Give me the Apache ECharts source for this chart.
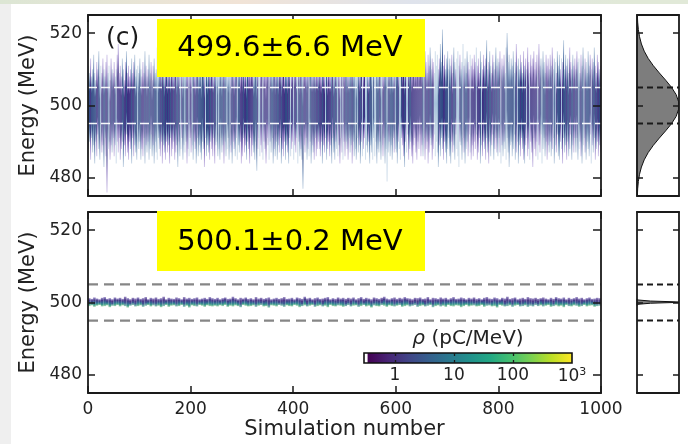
<!DOCTYPE html>
<html><head><meta charset="utf-8">
<script src="https://cdn.jsdelivr.net/npm/echarts@6/dist/echarts.min.js"></script>
<style>html,body{margin:0;padding:0;background:#fff;}#c{width:688px;height:444px;}</style>
</head><body><div id="c"></div>
<script>
// ---------- data ----------
const TOP_STEP = 2;   // simulations per sample in the upper panel
const BOT_STEP = 5;   // simulations per sample in the lower panel
const xTicks = [0, 200, 400, 600, 800, 1000];
const yTicks = [480, 500, 520];
const dashLevels = [495, 505];
const labelTop = '499.6±6.6 MeV';
const labelBot = '500.1±0.2 MeV';

const topHi = [
511,509,513,508,510,514,509,507,512,510,515,508,511,509,513,510,508,512,514,509,511,507,513,510,509,
512,508,510,514,517,509,511,508,513,510,507,512,515,509,511,508,510,513,509,512,514,508,510,511,509,
513,510,508,512,509,515,511,508,510,514,509,512,507,511,513,509,510,516,508,511,512,509,514,510,508,
511,513,509,510,512,508,514,510,509,511,515,508,512,510,509,513,511,508,510,514,509,512,510,508,511,
509,512,514,510,508,511,513,509,510,512,508,515,511,509,510,513,508,512,511,509,514,510,508,512,510,
511,509,513,510,512,508,510,514,509,511,513,508,510,512,509,515,510,508,511,513,509,510,512,508,514,
510,512,509,511,508,513,510,512,509,514,511,508,510,513,509,512,510,508,511,515,509,510,512,508,511,
513,509,510,512,508,511,514,509,510,512,508,513,511,509,510,516,508,512,510,509,513,511,508,510,512,
509,511,513,508,510,512,509,514,510,508,511,513,509,510,512,508,515,511,509,510,513,508,512,510,509,
512,510,508,513,511,509,510,514,508,512,510,509,511,513,508,510,512,509,515,511,508,510,513,509,512,
510,513,509,511,508,512,510,514,509,511,513,508,510,512,509,511,514,508,510,513,509,512,510,508,511,
514,510,509,512,508,511,513,509,510,516,508,512,510,509,513,511,508,510,512,509,514,510,508,511,513,
512,515,510,513,509,514,511,516,510,512,514,509,513,511,517,510,512,515,509,513,511,514,510,512,516,
511,513,510,515,512,509,514,511,516,510,513,512,509,515,511,514,510,513,517,512,521,511,514,510,513,
515,510,513,511,514,509,516,512,510,513,515,511,514,510,512,517,511,513,509,515,512,510,514,511,513,
510,514,512,516,511,513,509,515,512,510,514,511,513,518,510,512,515,511,509,514,512,510,516,511,513,
512,515,510,513,511,514,509,516,520,512,514,510,513,511,515,509,512,517,511,513,510,514,512,509,515,
511,513,510,516,512,509,514,511,513,515,510,512,514,509,517,511,513,510,515,512,509,514,511,513,510,
514,511,516,510,513,512,509,515,511,514,510,513,512,518,510,514,511,513,509,516,512,510,514,511,513,
510,515,512,513,509,514,511,516,510,513,512,509,515,511,514,510,513,512,516,511,509,514,512,510,511
];
const topLo = [
488,490,485,491,487,489,484,490,486,492,488,485,490,487,489,483,491,486,476,488,490,485,489,487,491,
486,489,484,490,487,491,485,488,490,483,489,486,492,487,485,490,488,484,491,486,489,487,485,490,488,
490,485,488,486,491,484,489,487,490,485,488,492,486,489,484,490,487,485,491,488,486,490,484,489,487,
485,490,487,489,484,491,486,488,490,485,487,489,483,490,486,488,491,485,489,487,490,484,488,486,491,
487,489,485,490,488,484,491,486,489,487,485,490,488,483,491,486,489,487,485,490,488,486,491,484,489,
490,486,488,485,491,487,489,484,490,486,488,491,485,489,487,484,490,488,486,491,485,489,487,490,484,
486,491,487,489,485,490,488,484,491,486,489,487,485,490,482,488,491,486,489,487,485,490,488,484,491,
489,485,490,487,491,484,488,486,490,485,489,487,491,484,488,486,490,485,489,487,484,491,486,488,490,
485,489,487,491,484,490,486,488,485,477,489,487,491,485,488,486,490,484,489,487,485,491,486,488,490,
488,486,490,484,489,487,491,485,488,490,486,489,484,491,487,485,490,488,486,489,484,491,487,485,490,
486,490,488,485,491,487,489,484,490,486,488,485,491,487,489,484,490,486,488,491,485,489,487,490,484,
489,487,485,491,486,490,484,488,487,490,485,489,486,491,484,488,479,487,490,486,489,485,491,487,488,
487,484,490,488,485,491,489,486,483,490,487,492,485,488,490,486,484,489,491,487,485,490,488,492,486,
489,486,491,485,488,490,484,487,491,489,485,488,492,486,490,487,483,489,486,491,488,485,490,487,484,
488,491,486,484,490,487,489,485,492,488,486,483,490,489,485,491,487,484,488,490,486,492,487,485,489,
486,490,488,492,485,487,491,484,489,486,490,488,485,491,487,484,490,486,489,492,485,488,491,487,486,
491,487,484,489,486,490,488,485,491,487,483,489,490,486,488,492,485,487,490,484,489,486,491,488,485,
484,489,491,486,488,485,490,487,483,491,488,486,490,485,489,487,492,484,488,491,486,490,485,489,487,
490,486,488,491,484,489,487,492,486,485,490,488,484,491,487,489,485,490,486,488,492,485,489,487,491,
487,491,485,488,490,486,484,489,491,487,485,490,488,486,492,484,489,487,491,485,488,490,486,489,487
];
const botHi = [
501.2,501.0,501.4,501.1,500.9,501.3,501.5,501.0,501.2,500.9,501.4,501.1,501.3,501.0,501.6,501.2,500.9,501.3,501.1,501.4,501.0,501.2,501.5,500.9,501.3,
501.1,501.4,501.0,501.2,501.6,500.9,501.3,501.1,501.0,501.4,501.2,500.9,501.5,501.1,501.3,501.0,501.2,501.4,500.9,501.1,501.3,501.0,501.5,501.2,501.0,
501.3,500.9,501.2,501.4,501.0,501.1,501.6,501.2,500.9,501.3,501.1,501.4,501.0,501.2,500.9,501.5,501.1,501.3,501.0,501.2,501.4,500.9,501.1,501.3,501.0,
501.2,501.5,501.0,501.1,501.3,500.9,501.4,501.2,501.0,501.6,501.1,501.3,500.9,501.2,501.4,501.0,501.1,501.3,501.5,500.9,501.2,501.0,501.4,501.1,501.3,
501.0,501.3,501.1,501.4,500.9,501.2,501.5,501.0,501.3,501.1,500.9,501.4,501.2,501.0,501.3,501.6,501.1,500.9,501.2,501.4,501.0,501.3,501.1,501.5,501.2,
501.1,500.9,501.3,501.2,501.4,501.0,501.1,501.5,500.9,501.3,501.2,501.0,501.4,501.1,501.3,500.9,501.2,501.5,501.0,501.1,501.4,501.2,500.9,501.3,501.1,
501.4,501.0,501.2,500.9,501.3,501.5,501.1,501.0,501.4,501.2,500.9,501.3,501.1,501.6,501.0,501.2,501.4,500.9,501.1,501.3,501.0,501.5,501.2,501.1,501.3,
501.0,501.2,501.4,501.1,500.9,501.3,501.0,501.5,501.2,501.1,501.4,500.9,501.3,501.0,501.2,501.5,501.1,501.3,500.9,501.2,501.4,501.0,501.1,501.3,501.2
];
const botLo = [
499.0,499.2,498.8,499.1,499.3,498.9,499.0,499.2,498.7,499.1,499.0,499.3,498.9,499.2,499.0,498.6,499.1,499.3,498.9,499.0,499.2,498.8,499.1,499.3,498.9,
499.2,498.9,499.1,498.7,499.0,499.3,498.8,499.1,499.2,498.9,499.0,499.3,498.8,499.1,498.6,499.2,499.0,498.9,499.3,499.1,498.8,499.2,499.0,498.9,499.1,
498.9,499.2,499.0,499.3,498.8,499.1,498.9,499.2,499.0,498.7,499.3,499.1,498.9,499.0,499.2,498.8,499.1,499.3,498.9,499.0,498.6,499.2,499.1,498.9,499.3,
499.1,498.8,499.2,499.0,498.9,499.3,499.1,498.7,499.0,499.2,498.9,499.1,499.3,498.8,499.0,499.2,498.9,499.1,498.7,499.3,499.0,498.9,499.2,499.1,498.8,
499.0,499.3,498.9,499.1,499.2,498.8,499.0,499.3,498.9,499.1,498.6,499.2,499.0,498.9,499.3,499.1,498.8,499.2,499.0,498.9,499.1,499.3,498.8,499.0,499.2,
498.9,499.1,499.3,498.8,499.0,499.2,498.9,499.1,499.3,498.7,499.0,499.2,498.9,499.1,498.8,499.3,499.0,498.9,499.2,499.1,498.7,499.0,499.3,498.9,499.1,
499.2,498.9,499.0,499.3,498.8,499.1,499.2,498.9,499.0,498.6,499.3,499.1,498.9,499.0,499.2,498.8,499.1,499.3,498.9,499.0,499.2,498.8,499.1,498.9,499.3,
499.0,499.2,498.9,499.1,499.3,498.8,499.0,499.2,498.9,499.1,498.7,499.3,499.0,498.9,499.2,499.1,498.8,499.0,499.3,498.9,499.1,499.2,498.8,499.0,499.1
];
const sideTopE   = [475,477,479,481,483,485,487,489,491,493,495,497,499,501,503,505,507,509,511,513,515,517,519,521,523,525];
const sideTopRho = [0.008,0.016,0.032,0.060,0.105,0.172,0.267,0.389,0.531,0.682,0.823,0.932,0.992,0.992,0.932,0.823,0.682,0.531,0.389,0.267,0.172,0.105,0.060,0.032,0.016,0.008];
const sideBotE   = [499.2,499.5,499.8,500.0,500.1,500.2,500.4,500.7,501.0];
const sideBotRho = [0.002,0.02,0.32,0.88,1.0,0.88,0.32,0.02,0.002];
const cbarTicks = [1, 10, 100, 1000];
const cbarRange = [0.3, 1000];
const cbarUnder = 0.345;

// ---------- styling ----------
const FONT = 'DejaVu Sans';
const INK = '#1a1a1a';
const stops = a => a.map(s => ({offset: s[0], color: s[1]}));
const PAL_PURPLE = stops([[0,'rgba(170,150,215,0.5)'],[0.15,'rgba(110,85,175,0.8)'],[0.27,'rgba(55,40,125,0.97)'],[0.73,'rgba(50,48,128,0.97)'],[0.85,'rgba(110,85,175,0.8)'],[1,'rgba(170,150,215,0.5)']]);
const PAL_BLUE = stops([[0,'rgba(160,185,210,0.55)'],[0.15,'rgba(85,120,170,0.85)'],[0.27,'rgba(40,66,128,0.97)'],[0.73,'rgba(40,66,128,0.97)'],[0.85,'rgba(85,120,170,0.85)'],[1,'rgba(160,185,210,0.55)']]);
const PAL_LIGHT = stops([[0,'rgba(190,208,226,0.65)'],[0.5,'rgba(140,176,208,0.9)'],[1,'rgba(190,208,226,0.65)']]);
const PAL_BOT_A = stops([[0,'rgba(120,100,180,0.7)'],[0.3,'rgba(60,48,130,0.95)'],[0.55,'rgba(42,92,140,0.95)'],[0.78,'rgba(38,140,130,0.9)'],[1,'rgba(100,185,120,0.6)']]);
const PAL_BOT_B = stops([[0,'rgba(110,90,170,0.7)'],[0.35,'rgba(68,44,128,0.95)'],[0.65,'rgba(50,80,140,0.95)'],[1,'rgba(60,160,130,0.6)']]);
const VIRIDIS = stops([[0,'#440154'],[0.1,'#482475'],[0.2,'#414487'],[0.3,'#355f8d'],[0.4,'#2a788e'],[0.5,'#21918c'],[0.6,'#22a884'],[0.7,'#44bf70'],[0.8,'#7ad151'],[0.9,'#bddf26'],[1,'#fde725']]);

const topData = topHi.map((h, i) => [TOP_STEP * i + 1, topLo[i], h]);
const botData = botHi.map((h, i) => [BOT_STEP * i + 2.5, botLo[i], h]);
const sideTopData = sideTopE.map((e, i) => [sideTopRho[i], e]);
const sideBotData = sideBotE.map((e, i) => [sideBotRho[i], e]);

// colour family of each spectrum line picked from its own values (no periodic pattern)
function pickTop(i) {
  const s = topHi[i] + topLo[i];
  return s % 7 === 0 ? PAL_LIGHT : (s % 2 ? PAL_BLUE : PAL_PURPLE);
}
function pickBot(i) {
  return Math.round((botHi[i] + botLo[i]) * 10) % 3 === 1 ? PAL_BOT_B : PAL_BOT_A;
}

function spikeRender(step, widen, pick) {
  return function (params, api) {
    const x = api.value(0), lo = api.value(1), hi = api.value(2);
    const a = api.coord([x, hi]), b = api.coord([x, lo]);
    const w = api.size([step, 0])[0] * widen;
    return {
      type: 'rect',
      shape: {x: a[0] - w / 2, y: a[1], width: w, height: b[1] - a[1]},
      style: {fill: new echarts.graphic.LinearGradient(0, a[1], 0, b[1], pick(params.dataIndex), true)}
    };
  };
}
function curveRender(data) {
  return function (params, api) {
    if (params.dataIndex !== 0) return null;
    const pts = [api.coord([0, data[0][1]])];
    data.forEach(d => pts.push(api.coord(d)));
    pts.push(api.coord([0, data[data.length - 1][1]]));
    return {type: 'polygon', shape: {points: pts}, style: {fill: '#7d7d7d', stroke: '#111', lineWidth: 1}};
  };
}

const grids = [
  {left: 88, top: 15, width: 513, height: 181},
  {left: 637, top: 15, width: 42, height: 181},
  {left: 88, top: 212, width: 513, height: 181},
  {left: 637, top: 212, width: 42, height: 181},
  {left: 364, top: 353, width: 208, height: 10}
];
const lineSt = {color: INK, width: 1.8};
const tickSt = {color: INK, width: 1.5};
const tickLbl = {fontFamily: FONT, fontSize: 17, color: '#222'};

function mainX(g, pos, labels) {
  return {gridIndex: g, type: 'value', position: pos, min: 0, max: 1000, interval: 200, z: 10,
    axisLine: {show: true, onZero: false, lineStyle: lineSt},
    axisTick: {show: true, inside: true, length: 7, lineStyle: tickSt},
    axisLabel: {show: labels, margin: 8, formatter: v => String(v), ...tickLbl},
    splitLine: {show: false},
    name: labels ? 'Simulation number' : '', nameLocation: 'middle', nameGap: 26,
    nameTextStyle: {fontFamily: FONT, fontSize: 21, color: '#222'}};
}
function sideX(g, pos) {
  return {gridIndex: g, type: 'value', position: pos, min: 0, max: 1, z: 10,
    axisLine: {show: true, onZero: false, lineStyle: lineSt},
    axisTick: {show: false}, axisLabel: {show: false}, splitLine: {show: false}};
}
function energyY(g, pos, labels, len) {
  return {gridIndex: g, type: 'value', position: pos, min: 475, max: 525, z: 10,
    axisLine: {show: true, onZero: false, lineStyle: lineSt},
    axisTick: {show: true, inside: true, length: len, customValues: yTicks, lineStyle: tickSt},
    axisLabel: {show: labels, customValues: yTicks, margin: 6, ...tickLbl},
    splitLine: {show: false},
    name: labels ? 'Energy (MeV)' : '', nameLocation: 'middle', nameGap: 43,
    nameTextStyle: {fontFamily: FONT, fontSize: 21, color: '#222'}};
}
function dashSeries(xi, yi, x0, x1, color, width, dash, z) {
  return dashLevels.map(lv => ({
    type: 'line', xAxisIndex: xi, yAxisIndex: yi, data: [[x0, lv], [x1, lv]],
    symbol: 'none', silent: true, z: z, lineStyle: {color: color, width: width, type: dash}
  }));
}

const option = {
  backgroundColor: '#ffffff',
  animation: false,
  grid: grids,
  xAxis: [
    mainX(0, 'bottom', false), mainX(0, 'top', false),
    sideX(1, 'bottom'), sideX(1, 'top'),
    mainX(2, 'bottom', true), mainX(2, 'top', false),
    sideX(3, 'bottom'), sideX(3, 'top'),
    {gridIndex: 4, type: 'log', position: 'bottom', min: cbarRange[0], max: cbarRange[1], z: 10,
      axisLine: {show: false},
      axisTick: {show: true, inside: true, length: 3, customValues: cbarTicks.slice(0, 3), lineStyle: {color: INK, width: 1.3}},
      axisLabel: {show: true, customValues: cbarTicks, margin: 4, ...tickLbl,
        formatter: v => v >= 1000 ? '{b|10}{s|3}' : String(Math.round(v)),
        rich: {b: {fontFamily: FONT, fontSize: 17, color: '#222'}, s: {fontFamily: FONT, fontSize: 11, color: '#222', padding: [0, 0, 9, 0]}}},
      splitLine: {show: false}},
    {gridIndex: 4, type: 'log', position: 'top', min: cbarRange[0], max: cbarRange[1], z: 10,
      axisLine: {show: false},
      axisTick: {show: true, inside: true, length: 3, customValues: cbarTicks.slice(0, 3), lineStyle: {color: INK, width: 1.3}},
      axisLabel: {show: false}, splitLine: {show: false}}
  ],
  yAxis: [
    energyY(0, 'left', true, 7), energyY(0, 'right', false, 8),
    energyY(1, 'left', false, 6), energyY(1, 'right', false, 6),
    energyY(2, 'left', true, 7), energyY(2, 'right', false, 8),
    energyY(3, 'left', false, 6), energyY(3, 'right', false, 6),
    {gridIndex: 4, type: 'value', min: 0, max: 1, show: false}
  ],
  series: [
    {type: 'custom', xAxisIndex: 0, yAxisIndex: 0, data: topData, clip: true, silent: true, z: 2,
      encode: {x: 0, y: [1, 2]},
      renderItem: spikeRender(TOP_STEP, 1.0, pickTop)},
    ...dashSeries(0, 0, 0, 1000, 'rgba(255,255,255,0.95)', 1.5, [9, 4], 5),
    {type: 'custom', xAxisIndex: 4, yAxisIndex: 4, data: botData, clip: true, silent: true, z: 2,
      encode: {x: 0, y: [1, 2]},
      renderItem: spikeRender(BOT_STEP, 1.0, pickBot)},
    ...dashSeries(4, 4, 0, 1000, 'rgba(128,128,128,0.95)', 2.3, [10, 6], 5),
    {type: 'custom', xAxisIndex: 2, yAxisIndex: 2, data: sideTopData, silent: true, z: 2,
      renderItem: curveRender(sideTopData)},
    ...dashSeries(2, 2, 0, 1, '#1a1a1a', 2, [6, 4], 5),
    {type: 'custom', xAxisIndex: 6, yAxisIndex: 6, data: sideBotData, silent: true, z: 2,
      renderItem: curveRender(sideBotData)},
    ...dashSeries(6, 6, 0, 1, '#1a1a1a', 2, [6, 4], 5),
    {type: 'custom', xAxisIndex: 8, yAxisIndex: 8, data: [[cbarRange[0], cbarUnder, cbarRange[1]]], silent: true, z: 2,
      renderItem: function (params, api) {
        const a = api.coord([api.value(0), 1]);
        const b = api.coord([api.value(1), 0]);
        const c = api.coord([api.value(2), 0]);
        return {type: 'group', children: [
          {type: 'rect', shape: {x: a[0], y: a[1], width: b[0] - a[0], height: b[1] - a[1]}, style: {fill: '#ffffff'}},
          {type: 'rect', shape: {x: b[0], y: a[1], width: c[0] - b[0], height: c[1] - a[1]},
            style: {fill: new echarts.graphic.LinearGradient(b[0], 0, c[0], 0, VIRIDIS, true)}},
          {type: 'rect', shape: {x: a[0], y: a[1], width: c[0] - a[0], height: c[1] - a[1]},
            style: {fill: 'none', stroke: '#111', lineWidth: 1.6}}
        ]};
      }}
  ],
  graphic: [
    {type: 'rect', left: 0, top: 0, shape: {width: 11, height: 444}, style: {fill: '#efefef'}, z: 0, silent: true},
    {type: 'rect', left: 0, top: 0, shape: {width: 688, height: 4},
      style: {fill: new echarts.graphic.LinearGradient(0, 0, 1, 0, stops([[0,'#dce6d4'],[0.35,'#f1e3d6'],[0.6,'#dfe3ec'],[0.9,'#e1e9d8']]))}, z: 0, silent: true},
    {type: 'rect', left: 157, top: 19, shape: {width: 268, height: 58}, style: {fill: '#ffff00'}, z: 100, silent: true},
    {type: 'text', x: 290, y: 48, z: 101, silent: true,
      style: {text: labelTop, fontFamily: FONT, fontSize: 29, fill: '#000', align: 'center', verticalAlign: 'middle'}},
    {type: 'rect', left: 157, top: 211, shape: {width: 268, height: 60}, style: {fill: '#ffff00'}, z: 100, silent: true},
    {type: 'text', x: 290, y: 242, z: 101, silent: true,
      style: {text: labelBot, fontFamily: FONT, fontSize: 29, fill: '#000', align: 'center', verticalAlign: 'middle'}},
    {type: 'text', x: 106, y: 38, z: 101, silent: true,
      style: {text: '(c)', fontFamily: FONT, fontSize: 25, fill: INK, align: 'left', verticalAlign: 'middle'}},
    {type: 'text', x: 468, y: 339, z: 101, silent: true,
      style: {text: '{i|ρ} (pC/MeV)', fontFamily: FONT, fontSize: 20, fill: '#222', align: 'center', verticalAlign: 'middle',
        rich: {i: {fontFamily: FONT, fontSize: 20, fontStyle: 'italic', fill: '#222'}}}}
  ]
};
const chart = echarts.init(document.getElementById('c'), null, {renderer: 'canvas'});
chart.setOption(option);
</script></body></html>
